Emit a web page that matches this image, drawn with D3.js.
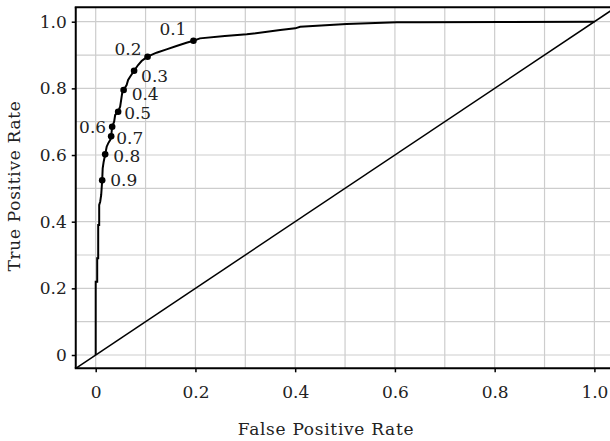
<!DOCTYPE html>
<html lang="en">
  <head>
    <meta charset="UTF-8" />
    <title>ROC curve</title>
    <script src="https://cdn.jsdelivr.net/npm/d3@7"></script>
    <style>
      body { margin: 0; background: #fff; }
      svg { display: block; }
      text { font-family: "DejaVu Serif", "Liberation Serif", serif; font-size: 17px; fill: #222; }
      .title { letter-spacing: 0.7px; }
    </style>
  </head>
  <body>
    <svg width="610" height="441"></svg>
    <script>
      // ROC curve
      const fpr = [0, 0, 0.003, 0.003, 0.005, 0.005, 0.007, 0.007, 0.009, 0.011,
        0.013, 0.014, 0.016, 0.019, 0.022, 0.025, 0.029, 0.031, 0.033, 0.037,
        0.039, 0.042, 0.045, 0.049, 0.051, 0.053, 0.056, 0.062, 0.065, 0.069,
        0.077, 0.085, 0.092, 0.099, 0.104, 0.122, 0.142, 0.162, 0.182, 0.196,
        0.209, 0.259, 0.303, 0.37, 0.4, 0.41, 0.503, 0.604, 0.65, 0.82, 1.0];
      const tpr = [0, 0.22, 0.22, 0.29, 0.29, 0.39, 0.39, 0.45, 0.46, 0.48,
        0.524, 0.56, 0.58, 0.602, 0.625, 0.635, 0.645, 0.656, 0.685, 0.7,
        0.72, 0.725, 0.73, 0.745, 0.765, 0.785, 0.795, 0.81, 0.825, 0.835,
        0.853, 0.87, 0.882, 0.89, 0.895, 0.907, 0.917, 0.927, 0.937, 0.943,
        0.95, 0.957, 0.962, 0.975, 0.98, 0.985, 0.993, 0.998, 0.998, 0.999, 1.0];

      // marked thresholds
      const thresholds = ["0.1", "0.2", "0.3", "0.4", "0.5", "0.6", "0.7", "0.8", "0.9"];
      const thrFpr = [0.196, 0.104, 0.077, 0.056, 0.045, 0.033, 0.031, 0.019, 0.013];
      const thrTpr = [0.943, 0.895, 0.853, 0.795, 0.73, 0.685, 0.656, 0.602, 0.524];

      const tickValues = [0, 0.2, 0.4, 0.6, 0.8, 1.0];
      const tickLabels = ["0", "0.2", "0.4", "0.6", "0.8", "1.0"];
      const gridValues = d3.range(0, 11).map((i) => i / 10);

      // label placement around each threshold dot
      const labelAnchor = ["end", "end", "start", "start", "start", "end", "start", "start", "start"];
      const labelDx = [-7, -6, 7, 8, 6, -6, 5, 8, 8];
      const labelDy = [-6, -2, 11, 10, 7, 6, 8, 8, 6];

      const svg = d3.select("svg");
      const x = d3.scaleLinear().domain([0, 1]).range([95.7, 594.4]);
      const y = d3.scaleLinear().domain([0, 1]).range([355, 21.7]);
      const xMin = -0.04, xMax = 1.04, yMin = -0.04, yMax = 1.043;

      svg.append("clipPath").attr("id", "clip")
        .append("rect")
        .attr("x", x(xMin)).attr("y", y(yMax))
        .attr("width", x(xMax) - x(xMin)).attr("height", y(yMin) - y(yMax));

      // grid
      const grid = svg.append("g").attr("stroke", "#cdcdcd").attr("stroke-width", 1.2);
      grid.selectAll(".gx").data(gridValues).join("line")
        .attr("x1", (d) => x(d)).attr("x2", (d) => x(d))
        .attr("y1", y(yMin)).attr("y2", y(yMax));
      grid.selectAll(".gy").data(gridValues).join("line")
        .attr("class", "gy")
        .attr("x1", x(xMin)).attr("x2", x(xMax))
        .attr("y1", (d) => y(d)).attr("y2", (d) => y(d));

      // axes
      const xAxis = d3.axisBottom(x).tickValues(tickValues)
        .tickFormat((d, i) => tickLabels[i]).tickSize(4).tickPadding(14);
      const yAxis = d3.axisLeft(y).tickValues(tickValues)
        .tickFormat((d, i) => tickLabels[i]).tickSize(4).tickPadding(5);

      const gx = svg.append("g").attr("transform", `translate(0,${y(yMin)})`).call(xAxis);
      const gy = svg.append("g").attr("transform", `translate(${x(xMin)},0)`).call(yAxis);
      [gx, gy].forEach((g) => {
        g.select(".domain").remove();
        g.selectAll(".tick line").attr("stroke", "#000").attr("stroke-width", 1.5);
        g.selectAll(".tick text").attr("fill", "#222")
          .style("font-family", '"DejaVu Serif", serif').style("font-size", "17px");
      });

      // frame: left, bottom, top
      const frame = svg.append("g").attr("stroke", "#000").attr("stroke-width", 2);
      frame.append("line").attr("x1", x(xMin)).attr("x2", x(xMin)).attr("y1", y(yMax)).attr("y2", y(yMin));
      frame.append("line").attr("x1", x(xMin) - 1).attr("x2", x(xMax)).attr("y1", y(yMin)).attr("y2", y(yMin));
      frame.append("line").attr("x1", x(xMin) - 1).attr("x2", x(xMax)).attr("y1", y(yMax)).attr("y2", y(yMax));

      const plot = svg.append("g").attr("clip-path", "url(#clip)");

      // chance diagonal
      plot.append("line")
        .attr("x1", x(xMin)).attr("y1", y(xMin))
        .attr("x2", x(xMax)).attr("y2", y(xMax))
        .attr("stroke", "#000").attr("stroke-width", 1.5);

      // ROC curve
      const line = d3.line().x((i) => x(fpr[i])).y((i) => y(tpr[i]));
      plot.append("path")
        .attr("d", line(d3.range(fpr.length)))
        .attr("fill", "none").attr("stroke", "#000").attr("stroke-width", 2);

      // threshold dots and labels
      plot.selectAll("circle").data(thresholds).join("circle")
        .attr("cx", (d, i) => x(thrFpr[i])).attr("cy", (d, i) => y(thrTpr[i]))
        .attr("r", 3.3).attr("fill", "#000");
      svg.selectAll(".thr").data(thresholds).join("text")
        .attr("class", "thr")
        .attr("x", (d, i) => x(thrFpr[i]) + labelDx[i])
        .attr("y", (d, i) => y(thrTpr[i]) + labelDy[i])
        .attr("text-anchor", (d, i) => labelAnchor[i])
        .text((d) => d);

      // titles
      svg.append("text").attr("class", "title").attr("x", 326).attr("y", 435)
        .attr("text-anchor", "middle").text("False Positive Rate");
      svg.append("text").attr("class", "title")
        .attr("transform", "translate(20,186) rotate(-90)")
        .attr("text-anchor", "middle").text("True Positive Rate");
    </script>
  </body>
</html>
